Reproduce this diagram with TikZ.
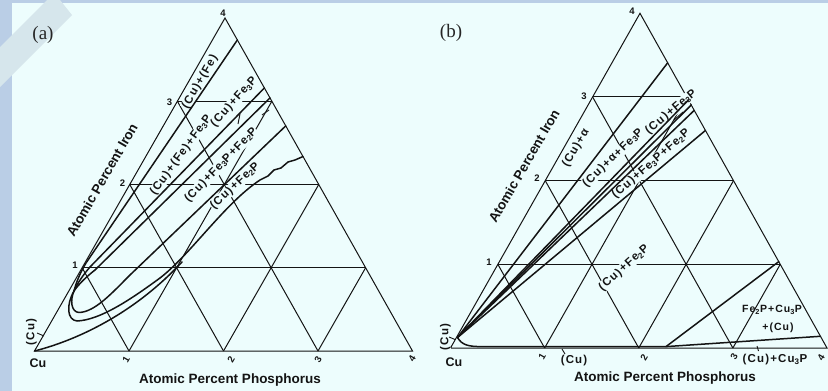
\documentclass[tikz,border=0pt]{standalone}
\usepackage{fontspec}
\setmainfont{Liberation Serif}
\newfontfamily\lett{Liberation Sans}[LetterSpace=10]
\newfontfamily\axf{Liberation Sans}
\usetikzlibrary{calc}
\definecolor{bgc}{RGB}{237,253,253}
\definecolor{stripc}{RGB}{186,206,230}
\definecolor{bandc}{RGB}{214,230,236}
\definecolor{ink}{RGB}{20,20,20}
\begin{document}
\begin{tikzpicture}[x=1pt,y=-1pt,
  gridl/.style={draw=ink, line width=1pt},
  phase/.style={draw=ink, line width=1.5pt, line join=round, line cap=round},
  lab/.style={font=\lett\bfseries\fontsize{11.5}{12}\selectfont, text=ink, fill=bgc, inner sep=0.4pt},
  labn/.style={font=\lett\bfseries\fontsize{10.5}{11}\selectfont, text=ink, inner sep=0.6pt},
  num/.style={font=\axf\bfseries\fontsize{9.5}{10}\selectfont, text=ink, inner sep=0pt},
  axt/.style={font=\axf\bfseries\fontsize{13.5}{14}\selectfont, text=ink, inner sep=0pt},
  cul/.style={font=\axf\bfseries\fontsize{12.5}{13}\selectfont, text=ink, inner sep=0pt},
  panel/.style={font=\fontsize{19}{21}\selectfont, text=black!85, inner sep=0pt},
  tick/.style={draw=ink, line width=0.9pt}]
% background
\useasboundingbox (0,0) rectangle (828,391);
\fill[bgc] (0,0) rectangle (828,391);
\fill[stripc] (0,0) rectangle (12,391);
\fill[stripc] (0,0) rectangle (828,3);
\fill[bandc] (47,0) -- (60,0) -- (72,15) -- (0,87) -- (0,47) -- cycle;
% triangles
\coordinate (A) at (34.5,351); \coordinate (B) at (412.5,351); \coordinate (C) at (225,18);
\coordinate (D) at (450.5,348); \coordinate (E) at (827,348); \coordinate (F) at (640,13.3);
\foreach \p/\q/\r in {A/B/C,D/E/F}{
  \foreach \k in {1,2,3}{
    \pgfmathsetmacro\f{\k/4}\pgfmathsetmacro\g{1-\k/4}
    \draw[gridl] ($(\p)!\f!(\r)$) -- ($(\q)!\f!(\r)$);
    \draw[gridl] ($(\p)!\f!(\q)$) -- ($(\p)!\f!(\r)$);
    \draw[gridl] ($(\p)!\f!(\q)$) -- ($(\q)!\g!(\r)$);
  }
  \draw[gridl] (\p) -- (\q) -- (\r) -- cycle;
}
% ---------- panel (a) labels ----------
\node[panel] (pa) at (43,35) {(a)};
\node[lab, rotate=60] (la1) at (200,82) {(Cu)+(Fe)};
\node[lab, rotate=54] (la2) at (181,155) {(Cu)+(Fe)+Fe\textsubscript{3}P};
\node[lab, rotate=48] (la3) at (234,102) {(Cu)+Fe\textsubscript{3}P};
\node[lab, rotate=46] (la4) at (221,165) {(Cu)+Fe\textsubscript{3}P+Fe\textsubscript{2}P};
\node[lab, rotate=43] (la5) at (235,186) {(Cu)+Fe\textsubscript{2}P};
\node[lab, rotate=90] (la6) at (31.5,332) {(Cu)};
\node[axt, rotate=60] (ta1) at (102,180) {Atomic Percent Iron};
\node[axt] (ta2) at (230,380) {Atomic Percent Phosphorus};
\node[cul] (ca) at (38,363) {Cu};
\node[num] (na1) at (75,265) {1};
\node[num] (na2) at (122.5,183) {2};
\node[num] (na3) at (169.5,102.5) {3};
\node[num] (na4) at (223,13) {4};
\node[num, rotate=60] (nb1) at (126,360) {1};
\node[num, rotate=60] (nb2) at (231,360) {2};
\node[num, rotate=60] (nb3) at (318,360) {3};
\node[num, rotate=60] (nb4) at (412,359) {4};
% ---------- panel (a) phase lines ----------
\coordinate (a1) at ($(B)!0.934!(C)$);
\coordinate (a2) at ($(B)!0.79!(C)$);
\coordinate (a3) at ($(B)!0.76!(C)$);
\coordinate (a4) at ($(B)!0.676!(C)$);
\coordinate (a5) at ($(B)!0.584!(C)$);
\coordinate (an) at (74,291);
\draw[phase] (a1) -- (86,263) .. controls (80,273) and (76,283) .. (an);
\draw[phase] (a2) -- (90,267) .. controls (83,275) and (77,284) .. (an);
\draw[phase] (a3) -- (95,270) .. controls (86,277) and (78,285) .. (an);
\draw[phase] (an) .. controls (70,300) and (71,312) .. (79,312.5) .. controls (95,312) and (112,293) .. (130,275) -- (a4);
\draw[phase] (an) .. controls (66,305) and (67,320) .. (77,321) .. controls (100,320) and (130,300) .. (160,278)
   .. controls (190,255) and (225,203) .. (260,180) -- (268,176) -- (274,170) -- (281,168) -- (288,162) -- (295,160) -- (a5);
\draw[phase] (A) .. controls (70,342) and (130,318) .. (182,262);
\draw[tick] (37,333) -- (44,336);
\draw[tick] (240,114) -- (238,124);
\draw[tick] (262,115) -- (269,110);
% ---------- panel (b) labels ----------
\node[panel] (pb) at (451,33) {(b)};
\node[lab, rotate=60] (lb1) at (576,148) {(Cu)+α};
\node[lab, rotate=44] (lb2) at (613,158) {(Cu)+α+Fe\textsubscript{3}P};
\node[lab, rotate=40] (lb3) at (671,112) {(Cu)+Fe\textsubscript{3}P};
\node[lab, rotate=41] (lb4) at (651,164) {(Cu)+Fe\textsubscript{3}P+Fe\textsubscript{2}P};
\node[lab, rotate=42] (lb5) at (624,268) {(Cu)+Fe\textsubscript{2}P};
\node[labn] (lb6) at (772,310) {Fe\textsubscript{2}P+Cu\textsubscript{3}P};
\node[labn] (lb7) at (778,328) {+(Cu)};
\node[lab] (lb8) at (574,361) {(Cu)};
\node[lab] (lb9) at (775,360) {(Cu)+Cu\textsubscript{3}P};
\node[lab, rotate=90] (lb10) at (445.5,337) {(Cu)};
\node[axt, rotate=60] (tb1) at (524,166) {Atomic Percent Iron};
\node[axt] (tb2) at (665,378) {Atomic Percent Phosphorus};
\node[cul] (cb) at (454,362) {Cu};
\node[num] (nc1) at (489,262) {1};
\node[num] (nc2) at (537,178.5) {2};
\node[num] (nc3) at (584,96.5) {3};
\node[num] (nc4) at (632,11.5) {4};
\node[num, rotate=60] (nd1) at (542,357) {1};
\node[num, rotate=60] (nd2) at (644,358) {2};
\node[num, rotate=60] (nd3) at (734,357) {3};
\node[num, rotate=60] (nd4) at (821,358) {4};
% ---------- panel (b) phase lines ----------
\coordinate (bn) at (457.5,337.5);
\coordinate (b1) at ($(E)!0.852!(F)$);
\coordinate (b2) at ($(E)!0.741!(F)$);
\coordinate (b3) at ($(E)!0.726!(F)$);
\coordinate (b4) at ($(E)!0.71!(F)$);
\coordinate (b5) at ($(E)!0.65!(F)$);
\coordinate (bj) at (666,346.6);
\coordinate (b6) at ($(E)!0.035!(F)$);
\coordinate (b7) at ($(E)!0.258!(F)$);
\foreach \e in {b1,b2,b3,b4,b5}{ \draw[phase] (bn) -- (\e); }
\draw[phase] (bn) .. controls (462,345) and (468,346.6) .. (482,346.6) -- (bj) -- (b6);
\draw[phase] (bj) -- (b7);
\draw[tick] (674,120) -- (683,112);
\draw[tick] (562,349) -- (565,354);
\draw[tick] (757,346) -- (758.5,351);
\draw[tick] (449,337) -- (455,339.5);
\end{tikzpicture}
\end{document}
